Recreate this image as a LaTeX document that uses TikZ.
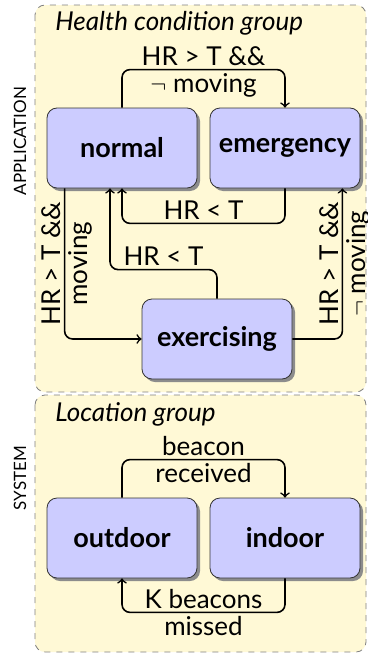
\documentclass[tikz,border=0pt]{standalone}
\usepackage{fontspec}
\setmainfont{Lato}
\usetikzlibrary{shadows, calc}

\definecolor{groupbg}{RGB}{255,249,214}
\definecolor{statebg}{RGB}{204,204,255}

\tikzset{
  state/.style={draw=black!80, fill=statebg, rounded corners=5pt,
    minimum width=75pt, minimum height=40pt,
    font=\fontsize{13.5}{15}\selectfont\bfseries,
    drop shadow={shadow xshift=1.5pt, shadow yshift=-1.5pt, fill=black!45, opacity=1}},
  group/.style={draw=gray, dashed, fill=groupbg, rounded corners=5pt},
  trans/.style={->, thick, rounded corners=4pt},
  lbl/.style={font=\fontsize{13}{15}\selectfont, inner sep=1.5pt},
  layer/.style={font=\fontsize{8.5}{10}\selectfont, rotate=90},
  title/.style={font=\fontsize{13}{15}\selectfont\itshape, anchor=west, inner sep=0pt},
}

\begin{document}
\begin{tikzpicture}[x=0.5pt, y=-0.5pt]
    \useasboundingbox (0, 0) rectangle (368, 653);
    % Groups
    \draw[group] (35, 5) rectangle (366, 392);
    \draw[group] (35, 395) rectangle (366, 652);
    \node[title] (health) at (55, 23) {Health condition group};
    \node[title] (location) at (55, 414) {Location group};
    \node[layer] (app) at (20, 141) {APPLICATION};
    \node[layer] (sys) at (20, 478) {SYSTEM};
    % States
    \node[state] (normal) at (122, 148) {normal};
    \node[state] (emergency) at (285, 148) {emergency};
    \node[state] (exercising) at (217, 339) {exercising};
    \node[state] (outdoor) at (122, 538) {outdoor};
    \node[state] (indoor) at (285, 538) {indoor};
    % Health transitions
    \draw[trans] (normal.north) -- ++(0, -38) coordinate (na)
      -- (na -| emergency.north)
      node[lbl, midway, above] {HR > T \&\&}
      node[lbl, midway, below] {$\neg$ moving}
      -- (emergency.north);
    \draw[trans] (emergency.south) -- ++(0, 35) coordinate (eb)
      -- (eb -| normal.south)
      node[lbl, midway, above] {HR < T}
      -- (normal.south);
    \draw[trans] (exercising.north) -- ++(0, -29) coordinate (xa)
      -- ($(xa -| normal.south) + (-12, 0)$)
      node[lbl, midway, above] {HR < T}
      -- ($(normal.south) + (-12, 0)$);
    \draw[trans] ($(normal.south west) + (18, 0)$) |- (exercising.west)
      node[lbl, pos=0.25, rotate=90, above] {HR > T \&\&}
      node[lbl, pos=0.25, rotate=90, below] {moving};
    \draw[trans] (exercising.east) -| ($(emergency.south east) + (-18, 0)$)
      node[lbl, pos=0.75, rotate=90, above] {HR > T \&\&}
      node[lbl, pos=0.75, rotate=90, below] {$\neg$ moving};
    % Location transitions
    \draw[trans] (outdoor.north) -- ++(0, -38) coordinate (oa)
      -- (oa -| indoor.north)
      node[lbl, midway, above] {beacon}
      node[lbl, midway, below] {received}
      -- (indoor.north);
    \draw[trans] (indoor.south) -- ++(0, 34) coordinate (ib)
      -- (ib -| outdoor.south)
      node[lbl, midway, above] {K beacons}
      node[lbl, midway, below] {missed}
      -- (outdoor.south);
  \end{tikzpicture}
\end{document}
